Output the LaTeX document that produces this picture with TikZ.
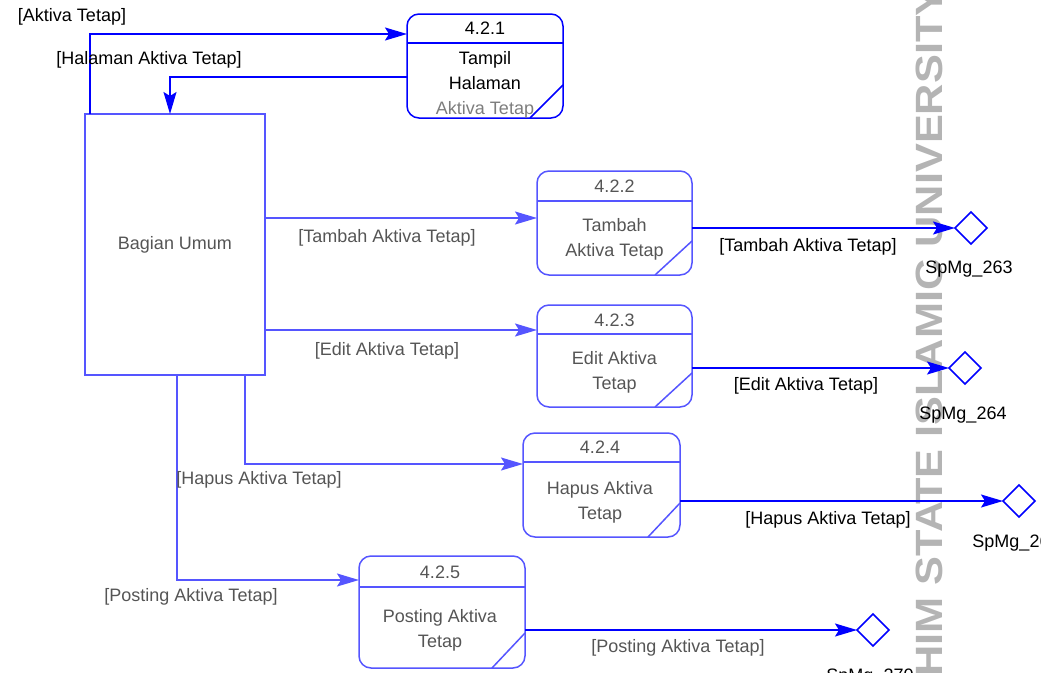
\documentclass[tikz,border=0pt]{standalone}
\usepackage{fontspec}
\setmainfont{Liberation Sans}
\usetikzlibrary{arrows.meta,shapes.geometric}
\definecolor{bluedark}{RGB}{0,0,255}
\definecolor{bluelight}{RGB}{85,85,255}
\definecolor{txtgray}{RGB}{85,85,85}
\definecolor{txtlight}{RGB}{125,125,125}
\definecolor{wmgray}{RGB}{180,180,180}
\begin{document}
\begin{tikzpicture}[x=1pt,y=-1pt,
  every node/.style={font=\fontsize{18}{25}\selectfont, inner sep=0pt, outer sep=0pt},
  procbox/.style={draw=#1, line width=1.5pt, rounded corners=12pt},
  procline/.style={draw=#1, line width=1.5pt},
  entity/.style={draw=bluelight, line width=1.5pt, minimum width=180pt, minimum height=261pt, text=txtgray},
  flowdark/.style={draw=bluedark, line width=1.5pt, -{Stealth[length=22pt,width=13pt,inset=4pt]}},
  flowlight/.style={draw=bluelight, line width=1.5pt, -{Stealth[length=22pt,width=13pt,inset=4pt]}},
  store/.style={diamond, draw=bluedark, line width=1.5pt, minimum width=32pt, minimum height=32pt, inner sep=0pt},
  lbl/.style={text=black},
  lblg/.style={text=txtgray},
  ptext/.style={align=center, text=txtgray}
]
\useasboundingbox (0,0) rectangle (1041,672);
\clip (0,0) rectangle (1041,672);

% watermark text
\node[rotate=90, text=wmgray, font=\fontsize{38}{40}\selectfont\bfseries] (wm) at (929,332) {\scalebox{1.14}[1]{HIM STATE ISLAMIC UNIVERSITY}};

% external entity
\node[entity] (bu) at (175,244.5) {Bagian Umum};

% processes
\node[procbox=bluedark, minimum width=156pt, minimum height=104pt] (p1) at (485,66) {};
\node[procbox=bluelight, minimum width=155pt, minimum height=104pt] (p2) at (614.5,223) {};
\node[procbox=bluelight, minimum width=155pt, minimum height=102pt] (p3) at (614.5,356) {};
\node[procbox=bluelight, minimum width=157pt, minimum height=104pt] (p4) at (601.5,485) {};
\node[procbox=bluelight, minimum width=166pt, minimum height=112pt] (p5) at (442,612) {};

% header lines
\draw[procline=bluedark] ([yshift=-29]p1.north west) -- ([yshift=-29]p1.north east);
\draw[procline=bluelight] ([yshift=-30]p2.north west) -- ([yshift=-30]p2.north east);
\draw[procline=bluelight] ([yshift=-29]p3.north west) -- ([yshift=-29]p3.north east);
\draw[procline=bluelight] ([yshift=-29]p4.north west) -- ([yshift=-29]p4.north east);
\draw[procline=bluelight] ([yshift=-31]p5.north west) -- ([yshift=-31]p5.north east);

% corner diagonals
\draw[procline=bluedark] ([yshift=33]p1.south east) -- ([xshift=-33]p1.south east);
\draw[procline=bluelight] ([yshift=34]p2.south east) -- ([xshift=-37]p2.south east);
\draw[procline=bluelight] ([yshift=34]p3.south east) -- ([xshift=-37]p3.south east);
\draw[procline=bluelight] ([yshift=34]p4.south east) -- ([xshift=-32]p4.south east);
\draw[procline=bluelight] ([yshift=35]p5.south east) -- ([xshift=-33]p5.south east);

% process texts
\node[lbl] (n1) at (485,28) {4.2.1};
\node[align=center, text=black] (t1) at (485,85) {Tampil\\Halaman\\\textcolor{txtlight}{Aktiva Tetap}};
\node[lblg] (n2) at (614.5,186) {4.2.2};
\node[ptext] (t2) at (614.5,239.5) {Tambah\\Aktiva Tetap};
\node[lblg] (n3) at (614.5,320) {4.2.3};
\node[ptext] (t3) at (614.5,372.5) {Edit Aktiva\\Tetap};
\node[lblg] (n4) at (600,447) {4.2.4};
\node[ptext] (t4) at (600,502.5) {Hapus Aktiva\\Tetap};
\node[lblg] (n5) at (440,572) {4.2.5};
\node[ptext] (t5) at (440,630.5) {Posting Aktiva\\Tetap};

% data stores
\node[store] (d1) at (971,228) {};
\node[store] (d2) at (965,368) {};
\node[store] (d3) at (1019,501) {};
\node[store] (d4) at (873,630) {};
\node[lbl] (s1) at (969,269) {SpMg\_263};
\node[lbl] (s2) at (963,415) {SpMg\_264};
\node[lbl] (s3) at (1016,543) {SpMg\_265};
\node[lbl] (s4) at (870,677) {SpMg\_270};

% flows between entity and 4.2.1
\draw[flowdark] ([xshift=5]bu.north west) |- ([yshift=32]p1.west);
\draw[flowdark] ([yshift=-11]p1.west) -| ([xshift=-5]bu.north);
\node[lbl] (f1) at (72,17) {[Aktiva Tetap]};
\node[lbl] (f2) at (149,60) {[Halaman Aktiva Tetap]};

% flows from entity to processes
\draw[flowlight] ([yshift=26.5]bu.east) -- ([yshift=26.5]bu.east -| p2.west);
\draw[flowlight] ([yshift=-85.5]bu.east) -- ([yshift=-85.5]bu.east -| p3.west);
\draw[flowlight] ([xshift=70]bu.south) |- ([yshift=21]p4.west);
\draw[flowlight] ([xshift=2]bu.south) |- ([yshift=32]p5.west);
\node[lblg] (f3) at (387,238) {[Tambah Aktiva Tetap]};
\node[lblg] (f4) at (387,351) {[Edit Aktiva Tetap]};
\node[lblg] (f5) at (259,480) {[Hapus Aktiva Tetap]};
\node[lblg] (f6) at (191,597) {[Posting Aktiva Tetap]};

% flows from processes to stores
\draw[flowdark] (p2.east |- d1.west) -- (d1.west);
\draw[flowdark] (p3.east |- d2.west) -- (d2.west);
\draw[flowdark] (p4.east |- d3.west) -- (d3.west);
\draw[flowdark] (p5.east |- d4.west) -- (d4.west);
\node[lbl] (f7) at (808,247) {[Tambah Aktiva Tetap]};
\node[lbl] (f8) at (806,386) {[Edit Aktiva Tetap]};
\node[lbl] (f9) at (828,520) {[Hapus Aktiva Tetap]};
\node[lblg] (f10) at (678,648) {[Posting Aktiva Tetap]};
\end{tikzpicture}
\end{document}
